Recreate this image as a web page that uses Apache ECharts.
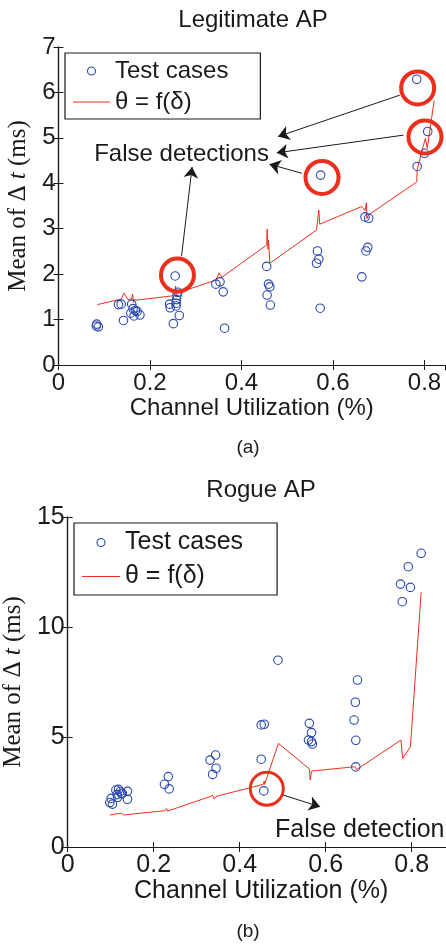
<!DOCTYPE html>
<html><head><meta charset="utf-8">
<script src="https://cdn.jsdelivr.net/npm/echarts@6/dist/echarts.min.js"></script>
<style>html,body{margin:0;padding:0;background:#fff}#c{width:446px;height:952px}</style>
</head><body><div id="c"></div>
<script>
// ---- (a) Legitimate AP ----
const legitTestX = [0.0835,0.087,0.0825,0.131,0.137,0.142,0.160,0.163,0.168,0.172,0.158,0.165,0.178,0.243,0.244,0.255,0.261,0.259,0.258,0.257,0.257,0.264,0.251,0.344,0.353,0.360,0.363,0.455,0.459,0.462,0.456,0.463,0.566,0.569,0.564,0.572,0.573,0.670,0.678,0.676,0.672,0.663,0.783,0.807,0.800,0.784];
const legitTestY = [0.90,0.84,0.86,1.33,1.34,0.98,1.34,1.24,1.20,1.18,1.14,1.08,1.10,1.34,1.26,1.96,1.60,1.53,1.44,1.36,1.30,1.09,0.91,1.78,1.83,1.61,0.81,2.17,1.78,1.72,1.54,1.32,2.51,2.33,2.24,1.25,4.18,3.26,3.23,2.59,2.51,1.94,6.29,5.14,4.66,4.37];
const legitThetaX = [0.085,0.137,0.143,0.152,0.160,0.162,0.164,0.166,0.172,0.247,0.254,0.256,0.257,0.259,0.262,0.344,0.351,0.357,0.455,0.456,0.458,0.459,0.462,0.564,0.569,0.571,0.663,0.670,0.673,0.674,0.677,0.783,0.784,0.797,0.802,0.806,0.821];
const legitThetaY = [1.33,1.45,1.58,1.44,1.46,1.56,1.38,1.44,1.43,1.52,1.55,1.74,1.50,1.58,1.57,1.87,2.03,1.93,2.64,2.99,2.55,2.75,2.24,2.97,3.41,3.10,3.49,3.40,3.57,3.22,3.30,4.03,4.30,4.81,4.99,4.77,5.82];
const legitRings = [[0.260,1.98],[0.576,4.13],[0.785,6.10],[0.801,5.02]];
const legitArrows = [[[0.746,5.94],[0.480,5.03]],[[0.754,5.06],[0.477,4.67]],[[0.532,4.22],[0.461,4.42]],[[0.269,2.40],[0.292,4.36]]];
const legitNote = {text:'False detections', at:[0.269,4.64]};
const legitXTicks = {min:0, max:0.845, interval:0.2};
const legitYTicks = {min:0, max:7, interval:1};

// ---- (b) Rogue AP ----
const rogueTestX = [0.098,0.104,0.101,0.112,0.118,0.122,0.115,0.125,0.139,0.139,0.127,0.116,0.234,0.225,0.236,0.344,0.331,0.345,0.337,0.450,0.457,0.450,0.456,0.489,0.562,0.567,0.560,0.567,0.569,0.674,0.669,0.666,0.670,0.670,0.822,0.792,0.774,0.797,0.778];
const rogueTestY = [2.02,1.95,2.21,2.59,2.62,2.52,2.38,2.42,2.53,2.17,2.44,2.26,3.20,2.85,2.64,4.18,3.95,3.58,3.30,5.55,5.58,3.99,2.55,8.49,5.62,5.20,4.86,4.79,4.68,7.59,6.58,5.77,4.85,3.64,13.35,12.74,11.95,11.80,11.15];
const rogueThetaX = [0.098,0.110,0.112,0.114,0.125,0.128,0.131,0.137,0.226,0.230,0.232,0.331,0.337,0.341,0.345,0.455,0.457,0.458,0.490,0.562,0.564,0.567,0.668,0.672,0.775,0.779,0.797,0.822];
const rogueThetaY = [1.45,1.50,1.56,1.50,1.53,1.58,1.45,1.47,1.65,1.75,1.63,2.29,2.35,2.18,2.30,2.85,3.00,2.85,4.71,3.55,3.05,3.45,3.65,3.52,4.86,4.03,4.55,11.58];
const rogueRings = [[0.463,2.65]];
const rogueArrows = [[[0.501,2.36],[0.587,1.83]]];
const rogueNote = {text:'False detection', at:[0.482,0.77]};
const rogueXTicks = {min:0, max:0.9, interval:0.2};
const rogueYTicks = {min:0, max:15, interval:5};

const seriesNames = ['Test cases', 'θ = f(δ)'];
const titles = ['Legitimate AP', 'Rogue AP'];
const captions = ['(a)', '(b)'];
const xName = 'Channel Utilization (%)';

// ---- styling ----
const SANS = '"Liberation Sans", Arial, Helvetica, sans-serif';
const SERIF = '"Liberation Serif", "Times New Roman", serif';
const INK = '#1a1a1a';
const BLUE = '#2a48b0';
const RED = '#ec2f1c';
const zip = (xs, ys) => xs.map((x, i) => [x, ys[i]]);

function axesFor(g, xt, yt, fs, yGap, xGap) {
  const line = {show:true, lineStyle:{color:INK, width:1.2}};
  const tick = {show:true, inside:true, length:5, lineStyle:{color:INK, width:1}};
  const xs = [
    {type:'value', gridIndex:g, position:'bottom', min:xt.min, max:xt.max, interval:xt.interval,
     axisLine:line, axisTick:tick, splitLine:{show:false},
     axisLabel:{show:true, showMaxLabel:false, margin:6, fontSize:fs, fontFamily:SANS, color:INK},
     name:xName, nameLocation:'middle', nameGap:xGap,
     nameTextStyle:{fontSize:fs, fontFamily:SANS, color:INK}},
    {type:'value', gridIndex:g, position:'top', min:xt.min, max:xt.max, interval:xt.interval,
     axisLine:line, axisTick:tick, splitLine:{show:false}, axisLabel:{show:false}}
  ];
  const ys = [
    {type:'value', gridIndex:g, position:'left', min:yt.min, max:yt.max, interval:yt.interval,
     axisLine:line, axisTick:tick, splitLine:{show:false},
     axisLabel:{show:true, margin:3, fontSize:fs, fontFamily:SANS, color:INK},
     name:'{a|Mean of Δ }{b|t}{a| (ms)}', nameLocation:'middle', nameGap:yGap, nameRotate:90,
     nameTextStyle:{rich:{a:{fontSize:25, fontFamily:SERIF, color:INK}, b:{fontSize:25, fontFamily:SERIF, fontStyle:'italic', color:INK}}}},
    {type:'value', gridIndex:g, position:'right', min:yt.min, max:yt.max, interval:yt.interval,
     axisLine:line, axisTick:tick, splitLine:{show:false}, axisLabel:{show:false}}
  ];
  return {xs, ys};
}

const A = axesFor(0, legitXTicks, legitYTicks, 24, 16, 29);
const B = axesFor(1, rogueXTicks, rogueYTicks, 25, 24, 32);

function panelSeries(ax, ay, testX, testY, thX, thY, rings, arrows, note, noteFs, noteAlign, ringW) {
  return [
    {type:'scatter', name:seriesNames[0], xAxisIndex:ax, yAxisIndex:ay, data:zip(testX, testY),
     symbol:'circle', symbolSize:8.5,
     itemStyle:{color:'rgba(255,255,255,0)', borderColor:BLUE, borderWidth:1.1, opacity:1}, z:3,
     markLine:{silent:true, symbol:['none','arrow'], symbolSize:11, animation:false,
       lineStyle:{color:INK, width:1, type:'solid'}, label:{show:false}, emphasis:{disabled:true},
       data:arrows.map(a => [{coord:a[0]}, {coord:a[1]}])}},
    {type:'line', name:seriesNames[1], xAxisIndex:ax, yAxisIndex:ay, data:zip(thX, thY),
     symbol:'none', showSymbol:false, lineStyle:{color:RED, width:1}, itemStyle:{color:RED}, z:2},
    {type:'scatter', name:'rings' + ax, xAxisIndex:ax, yAxisIndex:ay, data:rings,
     symbol:'circle', symbolSize:33, silent:true,
     itemStyle:{color:'rgba(255,255,255,0)', borderColor:RED, borderWidth:ringW, opacity:1}, z:4,
     markPoint:{silent:true, symbol:'circle', symbolSize:0, animation:false,
       label:{show:true, position:noteAlign === 'left' ? 'right' : 'inside', distance:0,
         formatter:note.text, fontSize:noteFs, fontFamily:SANS, color:INK},
       data:[{coord:note.at}]}}
  ];
}

const legendBase = (left, top, fs, iw, pad, gap) => ({
  orient:'vertical', left, top, itemWidth:iw, itemHeight:8, itemGap:gap,
  data:[
    {name:seriesNames[0], icon:'circle', itemStyle:{color:'rgba(255,255,255,0)', borderColor:BLUE, borderWidth:1.1}},
    {name:seriesNames[1], icon:'path://M0,0 L40,0 L40,1 L0,1 Z', itemStyle:{color:RED, borderWidth:0}}
  ],
  padding:pad, backgroundColor:'#fff', borderColor:INK, borderWidth:1.2, selectedMode:false,
  textStyle:{fontSize:fs, fontFamily:SANS, color:INK}
});

const option = {
  animation:false,
  backgroundColor:'#fff',
  grid:[
    {left:58.5, top:47, width:386.6, height:318, outerBoundsMode:'none', containLabel:false},
    {left:67.7, top:517, width:387, height:330, outerBoundsMode:'none', containLabel:false}
  ],
  xAxis:[...A.xs, ...B.xs],
  yAxis:[...A.ys, ...B.ys],
  legend:[legendBase(65, 53, 24, 37, [6,32,5,8], 7), legendBase(74, 523, 25, 38, [7,34,6,8], 9)],
  graphic:[
    {type:'text', x:253, y:20, style:{text:titles[0], align:'center', verticalAlign:'middle', fontSize:24, fontFamily:SANS, fill:INK}},
    {type:'text', x:261, y:490, style:{text:titles[1], align:'center', verticalAlign:'middle', fontSize:24, fontFamily:SANS, fill:INK}},
    {type:'text', x:248, y:448, style:{text:captions[0], align:'center', verticalAlign:'middle', fontSize:19, fontFamily:SANS, fill:INK}},
    {type:'text', x:248, y:932, style:{text:captions[1], align:'center', verticalAlign:'middle', fontSize:19, fontFamily:SANS, fill:INK}}
  ],
  series:[
    ...panelSeries(0, 0, legitTestX, legitTestY, legitThetaX, legitThetaY, legitRings, legitArrows, legitNote, 24, 'center', 4),
    ...panelSeries(2, 2, rogueTestX, rogueTestY, rogueThetaX, rogueThetaY, rogueRings, rogueArrows, rogueNote, 25, 'left', 3)
  ]
};
const chart = echarts.init(document.getElementById('c'), null, {renderer:'canvas'});
chart.setOption(option);
</script></body></html>
